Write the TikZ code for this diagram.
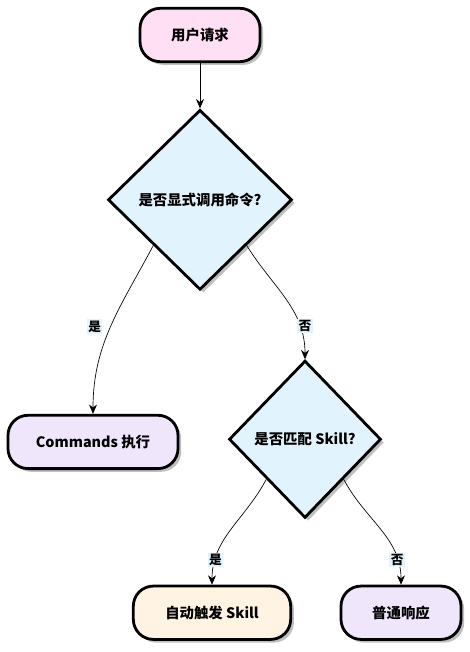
\documentclass[tikz,border=0pt]{standalone}
\usepackage{fontspec}
\setmainfont{Noto Sans CJK SC}
\usepackage{tikz}
\usetikzlibrary{arrows.meta,positioning,shapes,shadows}

\definecolor{startPink}{HTML}{FFDFF4}
\definecolor{askBlue}{HTML}{E1F3FD}
\definecolor{runLilac}{HTML}{EFE6FC}
\definecolor{skillCream}{HTML}{FFF3E3}

\tikzset{
  proc/.style={rectangle, rounded corners=15pt, draw=black, line width=2.1pt,
    minimum height=40pt, inner xsep=8pt, font=\fontsize{10.8}{12}\selectfont\bfseries,
    drop shadow={shadow xshift=2.4pt, shadow yshift=-2.4pt, fill=black!25, opacity=1}},
  decision/.style={diamond, draw=black, line width=2.1pt, fill=askBlue, inner sep=0pt,
    drop shadow={shadow xshift=2.4pt, shadow yshift=-2.4pt, fill=black!25, opacity=1}},
  edgelbl/.style={fill=askBlue, inner sep=1pt, font=\fontsize{9.5}{11}\selectfont\bfseries},
  flow/.style={-{Stealth[length=7pt,width=6pt]}, line width=0.5pt}
}

\begin{document}
\begin{tikzpicture}[x=0.75pt,y=0.75pt]
  \useasboundingbox (0,0) rectangle (469,-652);
  \node[proc, fill=startPink, minimum width=90pt] (request) at (200,-35) {用户请求};
  \node[decision, minimum width=138pt, minimum height=135pt, below=34pt of request,
    label=center:{\fontsize{10.8}{12}\selectfont\bfseries 是否显式调用命令?}] (askCmd) {};
  \node[proc, fill=runLilac, minimum width=127.5pt, below=92pt of askCmd, xshift=-80.25pt] (cmdRun) {Commands 执行};
  \node[decision, minimum width=114pt, minimum height=118pt, below=51pt of askCmd, xshift=78.75pt,
    label=center:{\fontsize{10.8}{12}\selectfont\bfseries 是否匹配 Skill?}] (askSkill) {};
  \node[proc, fill=skillCream, minimum width=118pt, below=49pt of askSkill, xshift=-69.75pt] (skillRun) {自动触发 Skill};
  \node[proc, fill=runLilac, minimum width=90pt, below=49pt of askSkill, xshift=72pt] (plainResp) {普通响应};
  \draw[flow] (request) -- (askCmd);
  \draw[flow] (askCmd.south west) to[out=-118,in=90] node[edgelbl, pos=0.5, xshift=-12pt] {是} (cmdRun.north);
  \draw[flow] (askCmd.south east) to[out=-58,in=90] node[edgelbl, pos=0.75, xshift=4pt] {否} (askSkill.north);
  \draw[flow] (askSkill.south west) to[out=-118,in=90] node[edgelbl, pos=0.8] {是} (skillRun.north);
  \draw[flow] (askSkill.south east) to[out=-62,in=90] node[edgelbl, pos=0.8] {否} (plainResp.north);
\end{tikzpicture}
\end{document}
